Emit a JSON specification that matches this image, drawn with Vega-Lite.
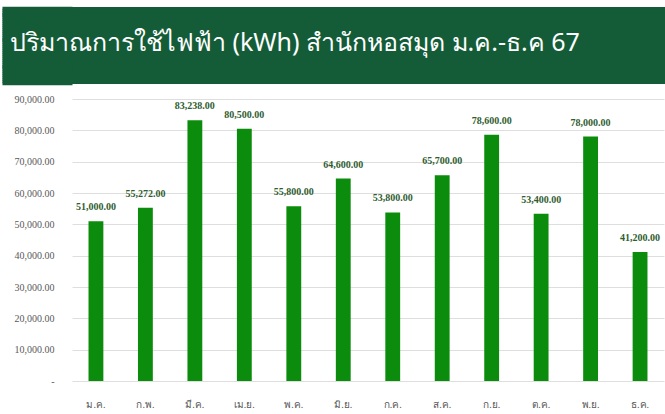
{
  "$schema": "https://vega.github.io/schema/vega-lite/v6.json",
  "padding": {"top": 6, "left": 0, "right": 0, "bottom": 0},
  "background": "white",
  "spacing": 9,
  "config": {"view": {"stroke": null}},
  "vconcat": [
    {
      "width": 595,
      "height": 77,
      "view": {"fill": "#145c38", "stroke": null},
      "title": {
        "text": "ปริมาณการใช้ไฟฟ้า (kWh) สำนักหอสมุด ม.ค.-ธ.ค 67",
        "orient": "top",
        "anchor": "start",
        "frame": "group",
        "offset": -70,
        "baseline": "alphabetic",
        "dx": -62,
        "color": "white",
        "font": "Noto Sans",
        "fontSize": 25,
        "fontWeight": "normal"
      },
      "data": {"values": [{"v": 0.5}]},
      "mark": {"type": "point", "opacity": 0},
      "encoding": {
        "y": {
          "field": "v",
          "type": "quantitative",
          "scale": {"domain": [0, 1]},
          "axis": {
            "title": null,
            "values": [0.015, 0.04, 0.065, 0.09, 0.115, 0.14, 0.165, 0.19, 0.215, 0.24, 0.265, 0.29, 0.315, 0.34, 0.365, 0.39, 0.415, 0.44, 0.465, 0.49, 0.515, 0.54, 0.565, 0.59, 0.615, 0.64, 0.665, 0.69, 0.715, 0.74, 0.765, 0.79, 0.815, 0.84, 0.865, 0.89, 0.915, 0.94, 0.965, 0.985],
            "labels": false,
            "domain": false,
            "grid": false,
            "ticks": true,
            "tickSize": 70,
            "tickWidth": 3.4,
            "tickCap": "butt",
            "tickColor": "#145c38",
            "tickOpacity": 1
          }
        }
      }
    },
    {
      "width": 592,
      "height": 282,
      "data": {
        "values": [
          {"month": "ม.ค.", "kwh": 51000},
          {"month": "ก.พ.", "kwh": 55272},
          {"month": "มี.ค.", "kwh": 83238},
          {"month": "เม.ย.", "kwh": 80500},
          {"month": "พ.ค.", "kwh": 55800},
          {"month": "มิ.ย.", "kwh": 64600},
          {"month": "ก.ค.", "kwh": 53800},
          {"month": "ส.ค.", "kwh": 65700},
          {"month": "ก.ย.", "kwh": 78600},
          {"month": "ต.ค.", "kwh": 53400},
          {"month": "พ.ย.", "kwh": 78000},
          {"month": "ธ.ค.", "kwh": 41200}
        ]
      },
      "encoding": {
        "x": {
          "field": "month",
          "type": "nominal",
          "sort": null,
          "scale": {"paddingInner": 0.7, "paddingOuter": 0.334},
          "axis": {
            "title": null,
            "labelAngle": 0,
            "ticks": false,
            "domain": false,
            "labelPadding": 18,
            "labelFont": "Liberation Serif",
            "labelFontSize": 10,
            "labelColor": "#595959"
          }
        },
        "y": {
          "field": "kwh",
          "type": "quantitative",
          "scale": {"domain": [0, 90000], "nice": false},
          "axis": {
            "title": null,
            "values": [0, 10000, 20000, 30000, 40000, 50000, 60000, 70000, 80000, 90000],
            "labelExpr": "datum.value == 0 ? '-' : format(datum.value, ',.2f')",
            "ticks": false,
            "domain": false,
            "labelPadding": 18,
            "minExtent": 70,
            "labelFont": "Liberation Serif",
            "labelFontSize": 10,
            "labelColor": "#595959",
            "gridColor": "#dedede",
            "gridWidth": 1
          }
        }
      },
      "layer": [
        {"mark": {"type": "bar", "color": "#0c8c0c"}},
        {
          "mark": {
            "type": "text",
            "baseline": "bottom",
            "dy": -9,
            "font": "Liberation Serif",
            "fontSize": 10,
            "fontWeight": "bold",
            "color": "#2f5d30"
          },
          "encoding": {"text": {"field": "kwh", "type": "quantitative", "format": ",.2f"}}
        }
      ]
    }
  ]
}
